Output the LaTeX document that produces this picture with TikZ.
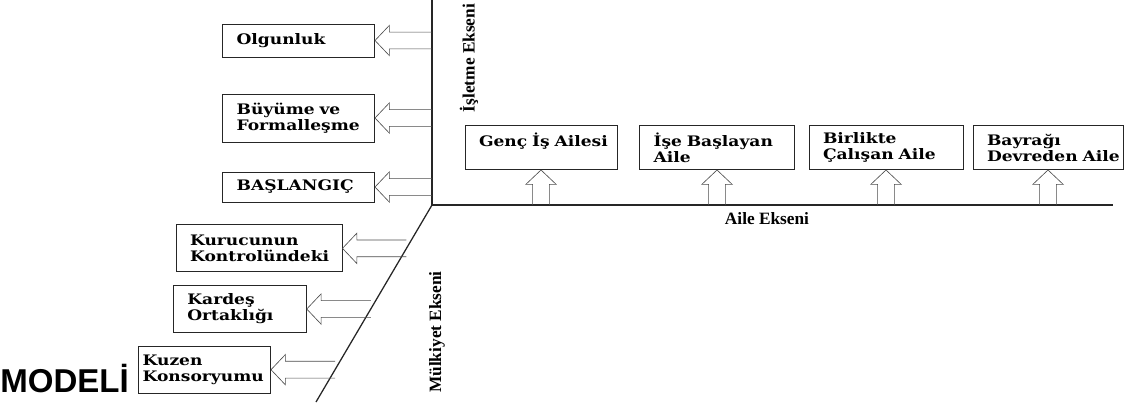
\documentclass[tikz,border=0pt]{standalone}
\usepackage{fontspec}
\setmainfont{DejaVu Serif}
\newfontfamily\stagefont{DejaVu Serif}[FakeStretch=1.18]
\newfontfamily\labelfont{Liberation Serif}
\newfontfamily\titlefont{Liberation Sans}
\usetikzlibrary{positioning, calc}

% hollow block arrow: #1 = tail (on an axis), #2 = tip (box side)
\newcommand{\openarrow}[2]{%
  \coordinate (hb) at ($(#2)!0.36cm!(#1)$);
  \draw[hollow] ($(#1)!0.21cm!90:(#2)$) -- ($(hb)!0.21cm!90:(#2)$)
    -- ($(hb)!0.38cm!90:(#2)$) -- (#2) -- ($(hb)!0.38cm!-90:(#2)$)
    -- ($(hb)!0.21cm!-90:(#2)$) -- ($(#1)!0.21cm!-90:(#2)$);}

\begin{document}
\begin{tikzpicture}[
    node distance=1.6cm,
    stage/.style={rectangle, draw=black!85, line width=0.6pt,
                  inner xsep=0.35cm, inner ysep=0pt, align=left,
                  font=\stagefont\bfseries\fontsize{10.3}{11.5}\selectfont},
    axis/.style={draw=black!85, line width=0.9pt},
    hollow/.style={draw=black!70, line width=0.45pt},
    axlabel/.style={font=\labelfont\bfseries\fontsize{12.3}{14}\selectfont, inner sep=0pt},
]
\useasboundingbox (0,0) rectangle (28.25,10.35);

% Axes
\coordinate (O) at (10.8,5.225);
\coordinate (vtop) at (10.8,10.35);
\coordinate (hend) at (27.825,5.225);
\coordinate (dend) at (7.9,0.3);
\draw[axis] (vtop) -- (O) -- (hend);
\draw[axis] (O) -- (dend);

% Arrow roots on the axes
\coordinate (olgA) at (10.8,9.3375);
\coordinate (buyA) at (10.8,7.4);
\coordinate (basA) at (10.8,5.675);
\coordinate (kurA) at ($(O)!0.22!(dend)$);
\coordinate (karA) at ($(O)!0.528!(dend)$);
\coordinate (kuzA) at ($(O)!0.836!(dend)$);
\coordinate (gencA) at ($(O)+(2.725,0)$);
\coordinate (iseA) at ($(O)+(7.125,0)$);
\coordinate (birA) at ($(O)+(11.35,0)$);
\coordinate (bayA) at ($(O)+(15.4,0)$);

% Business axis stages
\node[stage, text width=3.1cm, minimum height=0.825cm, left=1.425cm of olgA] (olgunluk) {Olgunluk};
\node[stage, text width=3.1cm, minimum height=1.2cm, left=1.425cm of buyA] (buyume) {Büyüme~ve\\Formalleşme};
\node[stage, text width=3.1cm, minimum height=0.75cm, left=1.425cm of basA] (baslangic) {BAŞLANGIÇ};

% Ownership axis stages
\node[stage, text width=3.45cm, minimum height=1.175cm, left=of kurA] (kurucu) {Kurucunun\\Kontrolündeki};
\node[stage, text width=2.625cm, minimum height=1.175cm, left=of karA] (kardes) {Kardeş\\Ortaklığı};
\node[stage, inner xsep=0.1cm, text width=3.1cm, minimum height=1.175cm, left=of kuzA] (kuzen) {Kuzen\\Konsoryumu};

% Family axis stages
\node[stage, text width=3.1cm, minimum height=1.1cm, above=0.875cm of gencA] (genc) {Genç~İş~Ailesi\\\mbox{}};
\node[stage, text width=3.175cm, minimum height=1.1cm, above=0.875cm of iseA] (ise) {İşe~Başlayan\\Aile};
\node[stage, text width=3.15cm, minimum height=1.1cm, above=0.875cm of birA] (birlikte) {Birlikte\\Çalışan~Aile};
\node[stage, text width=3.05cm, minimum height=1.1cm, above=0.875cm of bayA] (bayrak) {Bayrağı\\Devreden~Aile};

% Arrows
\openarrow{olgA}{olgunluk.east}
\openarrow{buyA}{buyume.east}
\openarrow{basA}{baslangic.east}
\openarrow{kurA}{kurucu.east}
\openarrow{karA}{kardes.east}
\openarrow{kuzA}{kuzen.east}
\openarrow{gencA}{genc.south}
\openarrow{iseA}{ise.south}
\openarrow{birA}{birlikte.south}
\openarrow{bayA}{bayrak.south}

% Axis labels
\node[axlabel, rotate=90] (vlab) at (11.725,8.9) {İşletme Ekseni};
\node[axlabel, rotate=90] (dlab) at (10.925,2.05) {Mülkiyet Ekseni};
\node[axlabel] (hlab) at (19.175,4.875) {Aile Ekseni};

% Title fragment
\node[font=\titlefont\bfseries\fontsize{23.5}{26}\selectfont, inner sep=0pt, anchor=base west] (title) at (0,0.55) {MODELİ};

\end{tikzpicture}
\end{document}
